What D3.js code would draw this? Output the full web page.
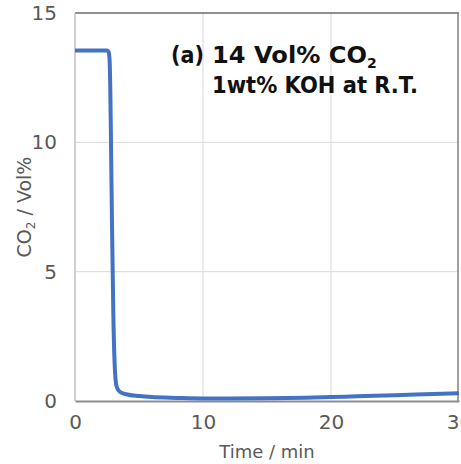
<!DOCTYPE html>
<html>
<head>
<meta charset="utf-8">
<script src="https://cdn.jsdelivr.net/npm/d3@7"></script>
<style>
  html, body { margin: 0; padding: 0; background: #fff; }
  svg { display: block; }
</style>
</head>
<body>
<div id="chart"></div>
<script>
// CO2 outlet concentration vs time
const timeMin = [0, 1, 2, 2.5, 2.6, 2.65, 2.7, 2.75, 2.8, 2.9, 3.0, 3.1, 3.2, 3.3, 3.5, 4, 5, 6, 8, 10, 12, 15, 18, 20, 22, 25, 28, 30];
const co2Vol = [13.55, 13.55, 13.55, 13.55, 13.52, 13.45, 13.2, 12.3, 10.5, 6.5, 3.2, 1.4, 0.7, 0.5, 0.36, 0.26, 0.19, 0.15, 0.12, 0.1, 0.1, 0.11, 0.13, 0.15, 0.18, 0.22, 0.27, 0.3];
const xTicks = [0, 10, 20, 30];
const yTicks = [0, 5, 10, 15];

const width = 461, height = 464;
const margin = {top: 13, right: 2, bottom: 63, left: 75};
const font = "'DejaVu Sans', sans-serif";

const svg = d3.select("#chart").append("svg")
    .attr("width", width)
    .attr("height", height);

const x = d3.scaleLinear().domain([0, 30]).range([margin.left, width - margin.right]);
const y = d3.scaleLinear().domain([0, 15]).range([height - margin.bottom, margin.top]);

// gridlines
svg.append("g").selectAll("line.v")
    .data(xTicks.slice(1, -1))
    .enter().append("line")
    .attr("x1", d => x(d)).attr("x2", d => x(d))
    .attr("y1", y(0)).attr("y2", y(15))
    .attr("stroke", "#d9d9d9").attr("stroke-width", 1);
svg.append("g").selectAll("line.h")
    .data(yTicks.slice(1, -1))
    .enter().append("line")
    .attr("x1", x(0)).attr("x2", x(30))
    .attr("y1", d => y(d)).attr("y2", d => y(d))
    .attr("stroke", "#d9d9d9").attr("stroke-width", 1);

// plot frame
svg.append("line").attr("x1", x(0)).attr("x2", x(30)).attr("y1", y(15)).attr("y2", y(15))
    .attr("stroke", "#222").attr("stroke-width", 1.2);
svg.append("line").attr("x1", x(30) - 1).attr("x2", x(30) - 1).attr("y1", y(15)).attr("y2", y(0))
    .attr("stroke", "#7f7f7f").attr("stroke-width", 1.5);
svg.append("line").attr("x1", x(0)).attr("x2", x(0)).attr("y1", y(15)).attr("y2", y(0))
    .attr("stroke", "#bfbfbf").attr("stroke-width", 1.5);

// axes
const xAxis = svg.append("g")
    .attr("transform", `translate(0,${y(0)})`)
    .call(d3.axisBottom(x).tickValues(xTicks).tickSize(0).tickPadding(14));
xAxis.select(".domain").attr("stroke", "#8c8c8c").attr("stroke-width", 2);
xAxis.selectAll("text").attr("font-family", font).attr("font-size", 20).attr("fill", "#595959");

const yAxis = svg.append("g")
    .attr("transform", `translate(${x(0)},0)`)
    .call(d3.axisLeft(y).tickValues(yTicks).tickSize(0).tickPadding(18));
yAxis.select(".domain").remove();
yAxis.selectAll("text").attr("font-family", font).attr("font-size", 20).attr("fill", "#595959");

// data line
const line = d3.line()
    .x((d, i) => x(timeMin[i]))
    .y(d => y(d))
    .curve(d3.curveMonotoneX);
svg.append("path")
    .datum(co2Vol)
    .attr("d", line)
    .attr("fill", "none")
    .attr("stroke", "#4472c4")
    .attr("stroke-width", 4)
    .attr("stroke-linejoin", "round");

// axis titles
svg.append("text")
    .attr("x", (x(0) + x(30)) / 2).attr("y", 458)
    .attr("text-anchor", "middle")
    .attr("font-family", font).attr("font-size", 18).attr("fill", "#595959")
    .text("Time / min");

const yt = svg.append("text")
    .attr("transform", `translate(31,${(y(0) + y(15)) / 2}) rotate(-90)`)
    .attr("text-anchor", "middle")
    .attr("font-family", font).attr("font-size", 19).attr("fill", "#595959");
yt.append("tspan").text("CO");
yt.append("tspan").attr("font-size", 12).attr("dy", 4).text("2");
yt.append("tspan").attr("dy", -4).text(" / Vol%");

// annotation
const ann = svg.append("g").attr("font-family", font).attr("font-weight", "bold").attr("fill", "#111");
ann.append("text").attr("x", 171).attr("y", 63).attr("font-size", 23)
    .attr("textLength", 33).attr("lengthAdjust", "spacingAndGlyphs").text("(a)");
const l1 = ann.append("text").attr("x", 212).attr("y", 63).attr("font-size", 23);
l1.append("tspan").attr("textLength", 155).attr("lengthAdjust", "spacingAndGlyphs").text("14 Vol% CO");
l1.append("tspan").attr("font-size", 14).attr("dy", 5).text("2");
ann.append("text").attr("x", 212).attr("y", 93).attr("font-size", 23)
    .attr("textLength", 206).attr("lengthAdjust", "spacingAndGlyphs").text("1wt% KOH at R.T.");
</script>
</body>
</html>
